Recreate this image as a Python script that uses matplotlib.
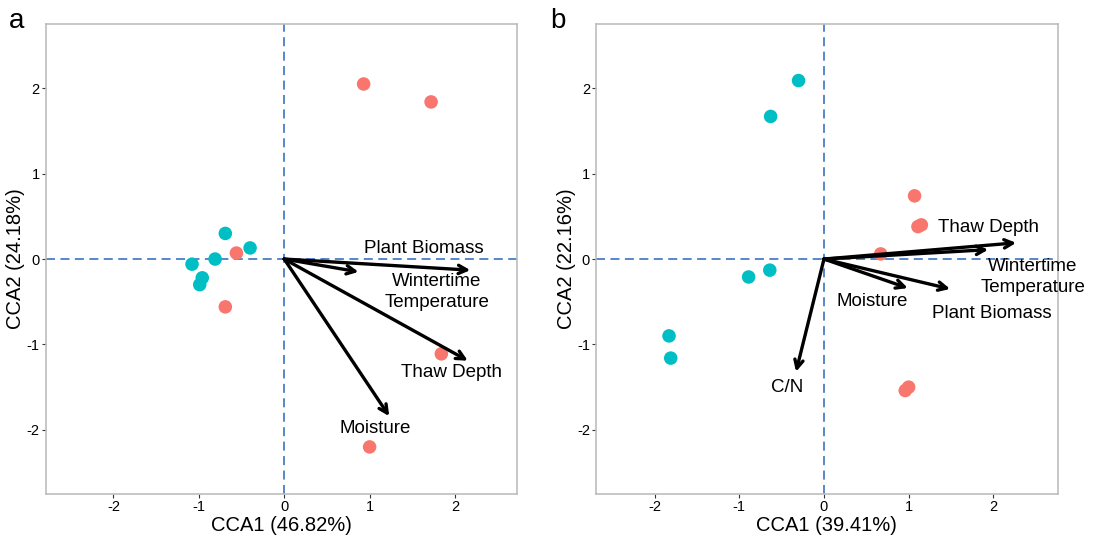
import matplotlib
matplotlib.use("Agg")
import matplotlib.pyplot as plt

plt.rcParams['font.family'] = ['Liberation Sans', 'DejaVu Sans']
plt.rcParams['axes.unicode_minus'] = False

# panel a - site scores
a_red_x = [0.93, 1.72, -0.56, -0.69, 1.84, 1.00]
a_red_y = [2.05, 1.84, 0.07, -0.56, -1.11, -2.20]
a_teal_x = [-0.69, -0.40, -0.81, -1.08, -0.96, -0.99]
a_teal_y = [0.30, 0.13, 0.00, -0.06, -0.22, -0.30]
# panel a - environmental arrows
a_vars = ["Plant Biomass", "Wintertime\nTemperature", "Thaw Depth", "Moisture"]
a_arrow_x = [2.18, 0.87, 2.15, 1.23]
a_arrow_y = [-0.13, -0.15, -1.19, -1.84]
a_label_x = [1.64, 1.79, 1.96, 1.07]
a_label_y = [0.12, -0.39, -1.33, -1.98]

# panel b - site scores
b_red_x = [1.07, 1.11, 1.15, 0.67, 0.96, 1.00]
b_red_y = [0.74, 0.38, 0.40, 0.06, -1.54, -1.50]
b_teal_x = [-0.30, -0.63, -0.89, -0.64, -1.83, -1.81]
b_teal_y = [2.09, 1.67, -0.21, -0.13, -0.90, -1.16]
# panel b - environmental arrows
b_vars = ["Thaw Depth", "Wintertime\nTemperature", "Plant Biomass", "Moisture", "C/N"]
b_arrow_x = [2.27, 1.94, 1.49, 0.99, -0.33]
b_arrow_y = [0.19, 0.11, -0.35, -0.34, -1.32]
b_label_x = [1.94, 2.47, 1.98, 0.57, -0.43]
b_label_y = [0.37, -0.21, -0.64, -0.50, -1.51]

RED = "#F8766D"
TEAL = "#00BFC4"
DASH = "#4A7EC7"


def draw_panel(ax, rx, ry, tx, ty, names, ax_x, ax_y, lx, ly, xlab, ylab, xlim):
    ax.axhline(0, color=DASH, ls=(0, (5, 3)), lw=1.3, zorder=1)
    ax.axvline(0, color=DASH, ls=(0, (5, 3)), lw=1.3, zorder=1)
    ax.scatter(rx, ry, s=95, color=RED, edgecolors="none", zorder=2)
    ax.scatter(tx, ty, s=95, color=TEAL, edgecolors="none", zorder=2)
    for name, x, y, tx_, ty_ in zip(names, ax_x, ax_y, lx, ly):
        ax.annotate("", xy=(x, y), xytext=(0, 0),
                    arrowprops=dict(arrowstyle="->,head_length=0.6,head_width=0.3",
                                    color="black", lw=2.4, shrinkA=0, shrinkB=0),
                    zorder=3)
        ax.text(tx_, ty_, name, ha="center", va="center", fontsize=13.5,
                linespacing=1.3, zorder=4)
    ax.set_xlim(*xlim)
    ax.set_ylim(-2.75, 2.75)
    ax.set_xticks([-2, -1, 0, 1, 2])
    ax.set_yticks([-2, -1, 0, 1, 2])
    ax.tick_params(labelsize=10.5, color="#333333", length=3, width=0.8, pad=1.5)
    ax.set_xlabel(xlab, fontsize=14.5, labelpad=1)
    ax.set_ylabel(ylab, fontsize=14.5, labelpad=1)
    for s in ax.spines.values():
        s.set_color("#BDBDBD")
        s.set_linewidth(1.2)


fig = plt.figure(figsize=(10.96, 5.38), dpi=100)
ax1 = fig.add_axes([0.042, 0.082, 0.430, 0.873])
ax2 = fig.add_axes([0.544, 0.082, 0.421, 0.873])

draw_panel(ax1, a_red_x, a_red_y, a_teal_x, a_teal_y, a_vars, a_arrow_x, a_arrow_y,
           a_label_x, a_label_y, "CCA1 (46.82%)", "CCA2 (24.18%)", (-2.79, 2.73))
draw_panel(ax2, b_red_x, b_red_y, b_teal_x, b_teal_y, b_vars, b_arrow_x, b_arrow_y,
           b_label_x, b_label_y, "CCA1 (39.41%)", "CCA2 (22.16%)", (-2.69, 2.76))

fig.text(0.008, 0.985, "a", fontsize=20, va="top")
fig.text(0.502, 0.985, "b", fontsize=20, va="top")

fig.savefig("out.png", dpi=100)
